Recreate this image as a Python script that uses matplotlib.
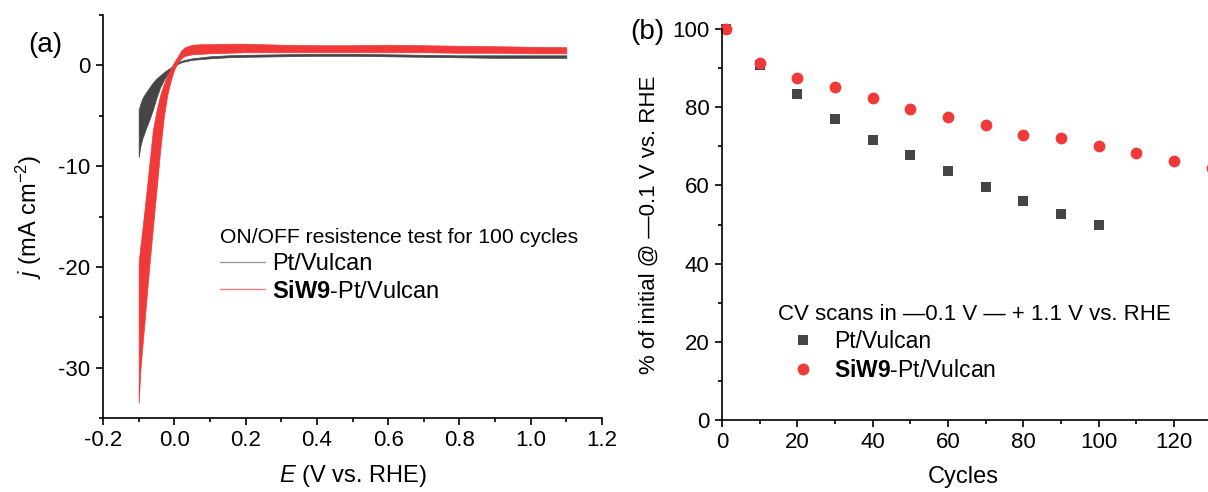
import matplotlib
matplotlib.use("Agg")
import matplotlib.pyplot as plt
from matplotlib.ticker import MultipleLocator
from matplotlib.lines import Line2D

plt.rcParams['font.family'] = ['Liberation Sans', 'DejaVu Sans']
plt.rcParams['font.size'] = 16
plt.rcParams['axes.unicode_minus'] = False
plt.rcParams['mathtext.fontset'] = 'custom'
plt.rcParams['mathtext.rm'] = 'Liberation Sans'
plt.rcParams['mathtext.it'] = 'Liberation Sans:italic'
plt.rcParams['mathtext.bf'] = 'Liberation Sans:bold'

# (a) CV envelope over 100 cycles
E_cv = [-0.1, -0.095, -0.09, -0.08, -0.07, -0.06, -0.05, -0.04, -0.03, -0.02,
        -0.01, 0.0, 0.01, 0.02, 0.03, 0.05, 0.075, 0.1, 0.15, 0.2,
        0.3, 0.4, 0.5, 0.6, 0.7, 0.8, 0.9, 1.0, 1.1]
pt_upper = [-4.4, -3.8, -3.3, -2.7, -2.2, -1.7, -1.3, -1.0, -0.7, -0.45,
            -0.2, 0.05, 0.3, 0.45, 0.55, 0.7, 0.8, 0.9, 1.0, 1.05,
            1.1, 1.15, 1.15, 1.1, 1.05, 1.0, 1.0, 1.0, 1.0]
pt_lower = [-9.1, -8.0, -7.3, -6.3, -5.4, -4.4, -3.2, -2.2, -1.5, -0.9,
            -0.45, -0.05, 0.15, 0.3, 0.4, 0.55, 0.62, 0.7, 0.8, 0.85,
            0.9, 0.95, 0.95, 0.9, 0.85, 0.8, 0.75, 0.75, 0.75]
siw_upper = [-19.5, -17.9, -16.4, -13.2, -9.8, -6.4, -4.5, -3.0, -1.9, -1.0,
             -0.3, 0.35, 0.9, 1.5, 1.8, 2.05, 2.1, 2.1, 2.15, 2.15,
             2.05, 2.0, 2.0, 2.05, 2.0, 1.95, 1.9, 1.85, 1.8]
siw_lower = [-33.5, -30.2, -28.1, -24.0, -19.9, -16.1, -12.4, -8.6, -5.3, -3.0,
             -1.5, -0.4, 0.3, 0.7, 0.95, 1.1, 1.15, 1.2, 1.25, 1.3,
             1.3, 1.3, 1.3, 1.3, 1.3, 1.25, 1.25, 1.2, 1.2]

# (b) retention at -0.1 V
cyc_pt = [1, 10, 20, 30, 40, 50, 60, 70, 80, 90, 100]
ret_pt = [100, 90.8, 83.5, 77.1, 71.5, 67.7, 63.7, 59.5, 55.9, 52.8, 50.0]
cyc_siw = [1, 10, 20, 30, 40, 50, 60, 70, 80, 90, 100, 110, 120, 130]
ret_siw = [100, 91.2, 87.5, 85.1, 82.3, 79.6, 77.6, 75.4, 73.0, 72.2, 70.0, 68.3, 66.3, 64.4]

RED = '#f03a3a'
DARK = '#454545'

fig = plt.figure(figsize=(12.08, 4.92), dpi=100)
W, H = 1208, 492
ax1 = fig.add_axes([103 / W, 1 - 418 / H, (602 - 103) / W, (418 - 15) / H])
ax2 = fig.add_axes([722 / W, 1 - 420 / H, (1208 - 722) / W, (420 - 29) / H])

for ax in (ax1, ax2):
    for s in ('top', 'right'):
        ax.spines[s].set_visible(False)
    for s in ('left', 'bottom'):
        ax.spines[s].set_linewidth(1.2)
    ax.tick_params(which='major', direction='out', length=5, width=1.2, pad=4,
                   labelsize=16)
    ax.tick_params(which='minor', direction='out', length=2.6, width=1.2)

# panel (a)
ax1.fill_between(E_cv, pt_lower, pt_upper, color=DARK, lw=0.5, edgecolor=DARK)
ax1.fill_between(E_cv, siw_lower, siw_upper, color=RED, lw=0.5, edgecolor=RED)
ax1.set_xlim(-0.2, 1.2)
ax1.set_ylim(-35, 5)
ax1.xaxis.set_minor_locator(MultipleLocator(0.1))
ax1.yaxis.set_minor_locator(MultipleLocator(5))
ax1.set_xticks([-0.2, 0.0, 0.2, 0.4, 0.6, 0.8, 1.0, 1.2])
ax1.set_xticklabels(['-0.2', '0.0', '0.2', '0.4', '0.6', '0.8', '1.0', '1.2'])
ax1.set_yticks([0, -10, -20, -30])
ax1.set_xlabel(r'$\it{E}$ (V vs. RHE)', fontsize=17)
ax1.set_ylabel(r'$\it{j}$ (mA cm$^{-2}$)', fontsize=17)
ax1.xaxis.set_label_coords(0.5, -0.112)
ax1.yaxis.set_label_coords(-0.118, 0.5)

h_a = [Line2D([], [], color='#999999', lw=1.0),
       Line2D([], [], color='#f38080', lw=1.0)]
ax1.legend(h_a, ['Pt/Vulcan', r'$\bf{SiW9}$-Pt/Vulcan'],
           title='ON/OFF resistence test for 100 cycles',
           loc='upper left', bbox_to_anchor=(0.234, 0.471),
           frameon=False, alignment='left', borderpad=0, borderaxespad=0,
           handlelength=1.9, handletextpad=0.3, labelspacing=0.24,
           fontsize=17, title_fontsize=15.2)

fig.text(45 / W, 1 - 45 / H, '(a)', fontsize=20, ha='center', va='center')

# panel (b)
ax2.plot(cyc_pt, ret_pt, 's', color=DARK, ms=7, mew=0, clip_on=False,
         label='Pt/Vulcan')
ax2.plot(cyc_siw, ret_siw, 'o', color=RED, ms=8.5, mew=0, clip_on=False,
         label=r'$\bf{SiW9}$-Pt/Vulcan')
ax2.set_xlim(0, 129)
ax2.set_ylim(0, 100)
ax2.xaxis.set_major_locator(MultipleLocator(20))
ax2.xaxis.set_minor_locator(MultipleLocator(10))
ax2.yaxis.set_major_locator(MultipleLocator(20))
ax2.yaxis.set_minor_locator(MultipleLocator(10))
ax2.set_xlabel('Cycles', fontsize=17)
ax2.set_ylabel('% of initial @ \u20140.1 V vs. RHE', fontsize=16)
ax2.xaxis.set_label_coords(0.497, -0.118)
ax2.yaxis.set_label_coords(-0.128, 0.5)

ax2.legend(title='CV scans in \u20140.1 V \u2014 + 1.1 V vs. RHE',
           loc='upper left', bbox_to_anchor=(0.115, 0.297),
           frameon=False, alignment='left', borderpad=0, borderaxespad=0,
           handlelength=2.2, handletextpad=0.25, labelspacing=0.24,
           fontsize=16.5, title_fontsize=16)

fig.text(647 / W, 1 - 32 / H, '(b)', fontsize=20, ha='center', va='center')

fig.savefig('out.png', dpi=100)
